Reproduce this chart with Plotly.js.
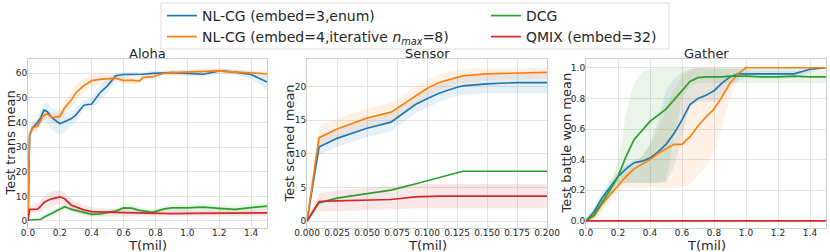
<!DOCTYPE html>
<html>
<head>
<meta charset="utf-8">
<script src="https://cdn.plot.ly/plotly-3.0.1.min.js"></script>
<style>html,body{margin:0;padding:0;background:#fff;}#chart{width:830px;height:252px;}</style>
</head>
<body>
<div id="chart"></div>
<script>
// ---------------- DATA ----------------
const seriesNames = ["NL-CG (embed=3,enum)", "NL-CG (embed=4,iterative <i>n</i><sub><i>max</i></sub>=8)", "DCG", "QMIX (embed=32)"];
const subplotTitles = ["Aloha", "Sensor", "Gather"];
const yTitles = ["Test trans mean", "Test scaned mean", "Test battle won mean"];
const xTitle = "T(mil)";

// Aloha
const T_aloha = [0, 0.01, 0.03, 0.06, 0.08, 0.1, 0.12, 0.15, 0.2, 0.23, 0.27, 0.3, 0.35, 0.4, 0.45, 0.5, 0.55, 0.6, 0.65, 0.7, 0.72, 0.78, 0.85, 0.9, 1.0, 1.1, 1.2, 1.3, 1.4, 1.5];
const aloha_nlcg3 = [0, 35, 38, 40, 42, 45, 44.5, 42, 39.5, 40.5, 41.5, 43, 47, 47.5, 52, 55, 59, 59.5, 59.5, 59.5, 59.6, 60, 60.2, 60.3, 60, 59.6, 61, 60.5, 59.5, 56.5];
const aloha_nlcg3_hi = [0, 37, 40, 42, 45, 48, 48, 46, 45, 44, 44, 46, 49, 50, 55, 58, 60, 60.5, 60.5, 60.5, 60.5, 61, 61, 61, 61, 61, 62, 61.5, 61, 60];
const aloha_nlcg3_lo = [0, 33, 36, 38, 39, 41, 40, 37, 35, 36, 38.5, 40, 45, 45, 49, 52, 57, 58, 58.5, 58.5, 58.5, 59, 59.5, 59.5, 59, 58.5, 60, 59.5, 58, 53];
const aloha_nlcg4 = [0, 35, 38, 38.5, 41, 43, 43.5, 42, 42.5, 46, 49, 52, 55, 57, 57.5, 57.8, 58, 57, 57.2, 56.8, 58.3, 58.5, 60, 60.3, 60.5, 61, 61, 60.5, 60, 59.8];
const aloha_nlcg4_hi = [0, 37, 40, 41, 43, 45, 45, 44, 44, 49, 52, 55, 58, 59.5, 60, 60, 59.5, 58.5, 58.5, 58, 59.5, 59.5, 61, 61.3, 61.5, 62, 62, 61.5, 61, 61];
const aloha_nlcg4_lo = [0, 33, 36, 36, 39, 41, 42, 40, 41, 43, 46, 49, 52, 54.5, 55, 55.5, 56.5, 55.5, 56, 55.5, 57, 57.5, 59, 59.3, 59.5, 60, 60, 59.5, 59, 58.6];
const aloha_dcg = [0.4, 0.4, 0.4, 0.4, 0.7, 1.5, 2.2, 3, 4.7, 5.8, 4.8, 4.3, 3.4, 2.7, 2.9, 3.6, 4, 5.3, 5.2, 4.3, 4.1, 3.5, 4.8, 5.3, 5.3, 5.6, 5.1, 4.7, 5.4, 6];
const aloha_dcg_hi = [0.8, 0.8, 0.9, 1, 1.5, 2.5, 3.2, 4.2, 6, 7, 6, 5.5, 4.5, 3.8, 4, 4.6, 5, 6.5, 6.5, 5.5, 5.3, 4.7, 6, 6.5, 6.5, 6.8, 6.5, 6.2, 7, 7.5];
const aloha_dcg_lo = [0, 0, 0, 0, 0, 0.5, 1.2, 2, 3.5, 4.6, 3.6, 3.2, 2.3, 1.6, 1.8, 2.6, 3, 4.2, 4, 3.1, 2.9, 2.3, 3.6, 4.1, 4.1, 4.4, 3.8, 3.3, 3.9, 4.6];
const aloha_qmix = [0, 4.7, 4.7, 4.8, 6, 7.5, 8.2, 9, 9.8, 9, 6.5, 5.8, 4.5, 3.8, 3.6, 3.5, 3.5, 3.4, 3.3, 3.2, 3.1, 3, 3, 3, 3.1, 3.1, 3.1, 3.3, 3.3, 3.3];
const aloha_qmix_hi = [0, 6.5, 6.5, 7, 8.5, 10, 11, 12, 12.5, 11.5, 9, 8, 6.5, 5.5, 5.2, 5, 5, 4.8, 4.7, 4.6, 4.5, 4.4, 4.4, 4.4, 4.5, 4.5, 4.5, 4.7, 4.7, 4.7];
const aloha_qmix_lo = [0, 3, 3, 3, 3.5, 5, 5.5, 6, 7, 6.5, 4, 3.5, 2.5, 2, 1.8, 1.8, 1.8, 1.8, 1.8, 1.7, 1.6, 1.6, 1.6, 1.6, 1.7, 1.7, 1.7, 1.9, 1.9, 1.9];

// Sensor
const T_sensor = [0, 0.01, 0.025, 0.05, 0.07, 0.09, 0.1, 0.11, 0.125, 0.13, 0.15, 0.175, 0.2];
const sensor_nlcg3 = [0, 11, 12.3, 13.8, 14.7, 17.3, 18.2, 19, 19.9, 20.1, 20.4, 20.6, 20.6];
const sensor_nlcg3_hi = [0.3, 12.3, 13.6, 15, 16, 18.6, 19.5, 20.3, 21.2, 21.4, 21.7, 21.9, 21.9];
const sensor_nlcg3_lo = [0, 9.8, 11, 12.5, 13.4, 16, 16.9, 17.7, 18.6, 18.8, 19, 19, 19];
const sensor_nlcg4 = [0, 12.4, 13.7, 15.3, 16.2, 18.5, 19.7, 20.6, 21.4, 21.6, 21.9, 22, 22.1];
const sensor_nlcg4_hi = [0.3, 14, 15.2, 16.7, 17.6, 19.8, 21, 21.8, 22.5, 22.6, 22.8, 22.8, 22.8];
const sensor_nlcg4_lo = [0, 11, 12.3, 13.9, 14.8, 17.2, 18.4, 19.4, 20.3, 20.5, 20.9, 21, 21.2];
const sensor_dcg = [0, 2.7, 3.4, 4.1, 4.6, 5.5, 6, 6.5, 7.2, 7.4, 7.4, 7.4, 7.4];
const sensor_dcg_hi = [0, 2.8, 3.5, 4.2, 4.7, 5.6, 6.1, 6.6, 7.3, 7.5, 7.5, 7.5, 7.5];
const sensor_dcg_lo = [0, 2.6, 3.3, 4.0, 4.5, 5.4, 5.9, 6.4, 7.1, 7.3, 7.3, 7.3, 7.3];
const sensor_qmix = [0, 2.9, 3, 3.1, 3.2, 3.6, 3.7, 3.7, 3.7, 3.7, 3.7, 3.7, 3.7];
const sensor_qmix_hi = [0, 4.2, 4.5, 4.9, 5.2, 5.5, 5.5, 5.5, 5.5, 5.5, 5.5, 5.5, 5.5];
const sensor_qmix_lo = [0, 1.4, 1.5, 1.6, 1.7, 1.9, 1.9, 1.9, 1.9, 1.9, 1.9, 1.9, 1.9];

// Gather
const T_gather = [0, 0.05, 0.1, 0.15, 0.2, 0.25, 0.3, 0.35, 0.4, 0.45, 0.5, 0.55, 0.6, 0.65, 0.7, 0.75, 0.8, 0.85, 0.9, 0.95, 1.0, 1.1, 1.2, 1.3, 1.4, 1.5];
const gather_nlcg3 = [0, 0.06, 0.15, 0.22, 0.29, 0.34, 0.38, 0.39, 0.41, 0.45, 0.5, 0.57, 0.66, 0.76, 0.8, 0.82, 0.85, 0.9, 0.94, 0.96, 0.96, 0.96, 0.96, 0.96, 0.99, 1.0];
const gather_nlcg3_hi = [0.02, 0.09, 0.19, 0.26, 0.32, 0.37, 0.4, 0.42, 0.5, 0.65, 0.85, 0.93, 0.97, 0.99, 1.0, 1.0, 1.0, 1.0, 1.0, 1.0, 1.0, 1.0, 1.0, 1.0, 1.0, 1.0];
const gather_nlcg3_lo = [0, 0.03, 0.11, 0.18, 0.25, 0.25, 0.25, 0.25, 0.25, 0.25, 0.25, 0.35, 0.55, 0.75, 0.78, 0.78, 0.78, 0.8, 0.88, 0.92, 0.93, 0.93, 0.93, 0.93, 0.97, 1.0];
const gather_nlcg4 = [0, 0.03, 0.11, 0.17, 0.23, 0.29, 0.34, 0.37, 0.4, 0.44, 0.47, 0.5, 0.5, 0.55, 0.62, 0.68, 0.73, 0.81, 0.9, 0.96, 1.0, 1.0, 1.0, 1.0, 1.0, 1.0];
const gather_nlcg4_hi = [0.02, 0.06, 0.15, 0.22, 0.28, 0.33, 0.36, 0.42, 0.5, 0.6, 0.75, 0.85, 0.95, 0.98, 1.0, 1.0, 1.0, 1.0, 1.0, 1.0, 1.0, 1.0, 1.0, 1.0, 1.0, 1.0];
const gather_nlcg4_lo = [0, 0.01, 0.06, 0.12, 0.18, 0.22, 0.22, 0.22, 0.22, 0.22, 0.22, 0.22, 0.22, 0.24, 0.3, 0.35, 0.45, 0.62, 0.8, 0.92, 1.0, 1.0, 1.0, 1.0, 1.0, 1.0];
const gather_dcg = [0, 0.04, 0.12, 0.2, 0.29, 0.42, 0.53, 0.59, 0.65, 0.69, 0.73, 0.79, 0.85, 0.91, 0.935, 0.94, 0.94, 0.94, 0.945, 0.945, 0.945, 0.94, 0.94, 0.945, 0.94, 0.94];
const gather_dcg_hi = [0.02, 0.07, 0.16, 0.25, 0.38, 0.7, 0.9, 0.97, 0.99, 1.0, 1.0, 1.0, 1.0, 1.0, 1.0, 1.0, 0.99, 0.99, 0.99, 0.99, 0.99, 0.98, 0.98, 0.98, 0.98, 0.98];
const gather_dcg_lo = [0, 0.02, 0.08, 0.16, 0.22, 0.25, 0.25, 0.25, 0.25, 0.25, 0.26, 0.55, 0.8, 0.88, 0.9, 0.9, 0.9, 0.9, 0.9, 0.9, 0.9, 0.9, 0.9, 0.9, 0.9, 0.9];
const gather_qmix = [0, 0, 0, 0, 0, 0, 0, 0, 0, 0, 0, 0, 0, 0, 0, 0, 0, 0, 0, 0, 0, 0, 0, 0, 0, 0];

// ---------------- STYLE ----------------
const colors = ["#1f77b4", "#ff7f0e", "#2ca02c", "#d62728"];
const bandColors = ["rgba(31,119,180,0.11)", "rgba(255,127,14,0.11)", "rgba(44,160,44,0.11)", "rgba(214,39,40,0.11)"];
const FONT = "DejaVu Sans, sans-serif";

const panels = [
  {x: T_aloha, s: [[aloha_nlcg3, aloha_nlcg3_lo, aloha_nlcg3_hi], [aloha_nlcg4, aloha_nlcg4_lo, aloha_nlcg4_hi], [aloha_dcg, aloha_dcg_lo, aloha_dcg_hi], [aloha_qmix, aloha_qmix_lo, aloha_qmix_hi]]},
  {x: T_sensor, s: [[sensor_nlcg3, sensor_nlcg3_lo, sensor_nlcg3_hi], [sensor_nlcg4, sensor_nlcg4_lo, sensor_nlcg4_hi], [sensor_dcg, sensor_dcg_lo, sensor_dcg_hi], [sensor_qmix, sensor_qmix_lo, sensor_qmix_hi]]},
  {x: T_gather, s: [[gather_nlcg3, gather_nlcg3_lo, gather_nlcg3_hi], [gather_nlcg4, gather_nlcg4_lo, gather_nlcg4_hi], [gather_dcg, gather_dcg_lo, gather_dcg_hi], [gather_qmix, null, null]]}
];

const traces = [];
const legendOf = ["legend", "legend2", "legend", "legend2"];
const ranks = [1, 1, 2, 2];
panels.forEach((p, pi) => {
  const xa = pi === 0 ? "x" : "x" + (pi + 1);
  const ya = pi === 0 ? "y" : "y" + (pi + 1);
  p.s.forEach((ser, si) => {
    if (ser[1]) {
      traces.push({
        x: p.x.concat(p.x.slice().reverse()),
        y: ser[2].concat(ser[1].slice().reverse()),
        xaxis: xa, yaxis: ya, type: "scatter", mode: "lines",
        fill: "toself", fillcolor: bandColors[si], line: {width: 0, color: "rgba(0,0,0,0)"},
        hoverinfo: "skip", showlegend: false
      });
    }
  });
});
panels.forEach((p, pi) => {
  const xa = pi === 0 ? "x" : "x" + (pi + 1);
  const ya = pi === 0 ? "y" : "y" + (pi + 1);
  p.s.forEach((ser, si) => {
    traces.push({
      x: p.x, y: ser[0], xaxis: xa, yaxis: ya, type: "scatter", mode: "lines",
      name: seriesNames[si], line: {color: colors[si], width: 1.7},
      showlegend: pi === 0, legend: legendOf[si], legendrank: ranks[si]
    });
  });
});

const W = 830, H = 252;
const xpx = [[28, 267], [307, 547], [586, 826]];
const xdom = xpx.map(d => [d[0] / W, d[1] / W]);
const ydom = [1 - 228 / H, 1 - 59 / H];
const yranges = [[-2.85, 65.8], [-1.04, 24.1], [-0.046, 1.057]];
const xranges = [[0, 1.5], [0, 0.2], [0, 1.5]];
const xdticks = [0.2, 0.025, 0.2];
const xfmt = [".1f", ".3f", ".1f"];
const ydticks = [10, 5, 0.2];
const yfmt = ["d", "d", ".1f"];
const ytitleX = [10, 289, 566];

const legendBase = {
  orientation: "h", xanchor: "left", yanchor: "top",
  borderwidth: 0, bgcolor: "rgba(0,0,0,0)",
  font: {family: FONT, size: 14, color: "#262626"},
  entrywidth: 279, entrywidthmode: "pixels", traceorder: "normal"
};

const layout = {
  width: W, height: H,
  margin: {l: 0, r: 0, t: 0, b: 0},
  paper_bgcolor: "#fff", plot_bgcolor: "#fff",
  font: {family: FONT, color: "#262626", size: 10},
  showlegend: true,
  legend: Object.assign({}, legendBase, {x: 162 / W, y: 1 + 0 / H}),
  legend2: Object.assign({}, legendBase, {x: 162 / W, y: 1 - 21 / H}),
  shapes: [{
    type: "rect", xref: "paper", yref: "paper",
    x0: 161 / W, x1: 669 / W, y0: 1 - 49 / H, y1: 1 - 3 / H,
    line: {color: "#dddddd", width: 1}, fillcolor: "rgba(0,0,0,0)", layer: "below"
  }],
  annotations: []
};
for (let i = 0; i < 3; i++) {
  const sfx = i === 0 ? "" : String(i + 1);
  layout["xaxis" + sfx] = {
    domain: xdom[i], range: xranges[i], dtick: xdticks[i], tick0: 0, tickformat: xfmt[i],
    anchor: "y" + sfx, showgrid: true, gridcolor: "#e3e3e3", gridwidth: 1,
    showline: true, mirror: true, linecolor: "#cccccc", linewidth: 1,
    zeroline: false, ticks: "", ticklen: 0, tickangle: 0, ticklabelstandoff: -4,
    tickfont: {size: 9, color: "#262626"}
  };
  layout["yaxis" + sfx] = {
    domain: ydom, range: yranges[i], dtick: ydticks[i], tick0: 0, tickformat: yfmt[i],
    anchor: "x" + sfx, showgrid: true, gridcolor: "#e3e3e3", gridwidth: 1,
    showline: true, mirror: true, linecolor: "#cccccc", linewidth: 1,
    zeroline: false, ticks: "", ticklen: 0, ticklabelstandoff: -2,
    tickfont: {size: 9, color: "#262626"}
  };
  layout.annotations.push({
    text: subplotTitles[i], xref: "paper", yref: "paper",
    x: (xdom[i][0] + xdom[i][1]) / 2, y: 1 - 53 / H, xanchor: "center", yanchor: "middle",
    showarrow: false, font: {size: 13, color: "#262626", family: FONT}
  });
  layout.annotations.push({
    text: xTitle, xref: "paper", yref: "paper",
    x: (xdom[i][0] + xdom[i][1]) / 2, y: 1 - 245 / H, xanchor: "center", yanchor: "middle",
    showarrow: false, font: {size: 13, color: "#262626", family: FONT}
  });
  layout.annotations.push({
    text: yTitles[i], xref: "paper", yref: "paper", textangle: -90,
    x: ytitleX[i] / W, y: (ydom[0] + ydom[1]) / 2, xanchor: "center", yanchor: "middle",
    showarrow: false, font: {size: 13, color: "#262626", family: FONT}
  });
}

Plotly.newPlot("chart", traces, layout, {displayModeBar: false, staticPlot: true});
</script>
</body>
</html>
